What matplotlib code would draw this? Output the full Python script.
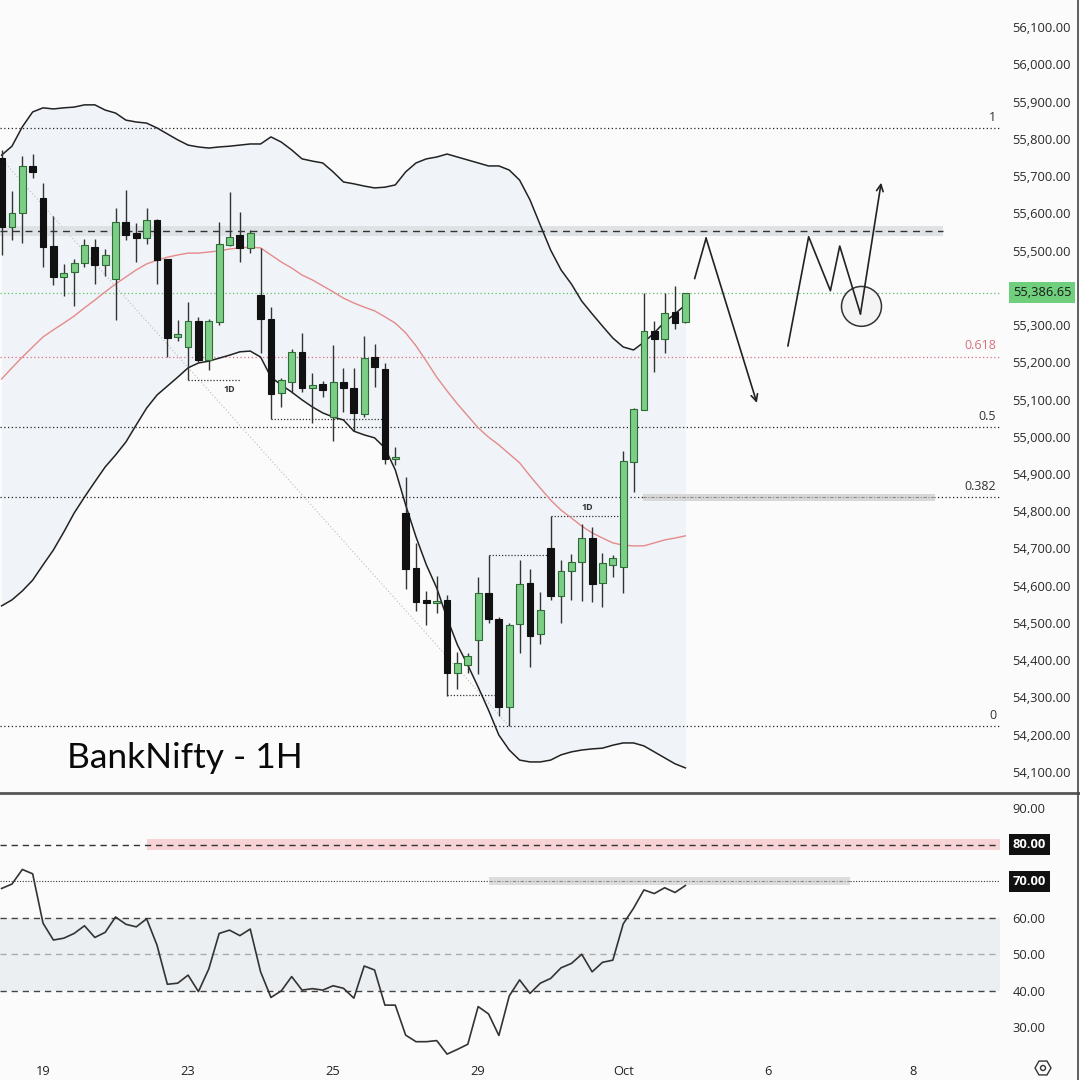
import numpy as np
import matplotlib
matplotlib.use('Agg')
import matplotlib.pyplot as plt
from matplotlib.patches import Ellipse, RegularPolygon
from matplotlib.lines import Line2D
from matplotlib.transforms import blended_transform_factory

plt.rcParams['font.family'] = ['Open Sans', 'DejaVu Sans']

# 1H candles, bar 0 = first visible bar (Sep 18), last bar = Oct 1 15:15
opens = [55748, 55562, 55601, 55727, 55640, 55512, 55428, 55442, 55466, 55510,
         55460, 55423, 55577, 55546, 55534, 55582, 55476, 55267, 55242, 55311,
         55206, 55309, 55515, 55542, 55506, 55381, 55316, 55117, 55148, 55228,
         55132, 55142, 55054, 55146, 55132, 55060, 55215, 55182, 54939, 54794,
         54647, 54562, 54555, 54562, 54367, 54387, 54454, 54580, 54510, 54274,
         54497, 54607, 54470, 54701, 54572, 54640, 54663, 54727, 54608, 54656,
         54651, 54931, 55072, 55284, 55262, 55334, 55307]
highs = [55770, 55661, 55754, 55759, 55682, 55593, 55464, 55476, 55530, 55530,
         55503, 55613, 55662, 55575, 55613, 55585, 55478, 55313, 55361, 55322,
         55316, 55577, 55658, 55603, 55555, 55506, 55348, 55158, 55235, 55278,
         55170, 55151, 55246, 55185, 55185, 55270, 55249, 55199, 54973, 54891,
         54714, 54587, 54626, 54575, 54423, 54419, 54623, 54683, 54515, 54501,
         54669, 54644, 54582, 54787, 54669, 54685, 54766, 54757, 54687, 54683,
         54962, 55076, 55387, 55312, 55385, 55405, 55387]
lows = [55488, 55528, 55519, 55694, 55456, 55407, 55378, 55351, 55455, 55410,
        55432, 55313, 55528, 55469, 55517, 55410, 55215, 55258, 55152, 55201,
        55179, 55300, 55512, 55470, 55492, 55224, 55047, 55079, 55117, 55121,
        55038, 55108, 54989, 55067, 55016, 55052, 55134, 54927, 54924, 54590,
        54533, 54495, 54526, 54304, 54322, 54365, 54363, 54501, 54250, 54223,
        54419, 54381, 54444, 54562, 54499, 54562, 54560, 54557, 54543, 54624,
        54580, 54852, 55072, 55175, 55224, 55288, 55305]
closes = [55563, 55600, 55727, 55710, 55510, 55428, 55439, 55467, 55514, 55460,
          55487, 55576, 55542, 55534, 55582, 55475, 55266, 55276, 55311, 55206,
          55311, 55517, 55537, 55506, 55548, 55316, 55114, 55152, 55228, 55130,
          55139, 55125, 55146, 55132, 55063, 55212, 55188, 54940, 54946, 54646,
          54557, 54555, 54560, 54367, 54392, 54411, 54580, 54510, 54274, 54495,
          54604, 54466, 54535, 54572, 54640, 54665, 54727, 54605, 54662, 54674,
          54936, 55074, 55285, 55262, 55331, 55305, 55386.65]

# Bollinger bands
bb_upper = [55756, 55780, 55832, 55872, 55883, 55880, 55883, 55885, 55891, 55891,
            55877, 55869, 55850, 55845, 55842, 55829, 55813, 55797, 55783, 55778,
            55775, 55778, 55780, 55783, 55786, 55786, 55805, 55791, 55770, 55746,
            55740, 55735, 55711, 55684, 55679, 55673, 55668, 55670, 55676, 55711,
            55735, 55746, 55751, 55759, 55751, 55743, 55735, 55727, 55727, 55716,
            55689, 55636, 55568, 55501, 55448, 55410, 55364, 55330, 55297, 55265,
            55241, 55233, 55254, 55279, 55308, 55330, 55354]
bb_lower = [54546, 54562, 54586, 54615, 54656, 54696, 54744, 54795, 54838, 54879,
            54919, 54951, 54986, 55032, 55077, 55112, 55136, 55160, 55185, 55198,
            55203, 55211, 55219, 55228, 55230, 55214, 55160, 55139, 55120, 55099,
            55080, 55064, 55053, 55045, 55015, 55005, 54997, 54970, 54911, 54817,
            54731, 54656, 54594, 54513, 54441, 54387, 54328, 54266, 54199, 54159,
            54132, 54127, 54127, 54132, 54146, 54154, 54159, 54162, 54164, 54172,
            54178, 54178, 54170, 54154, 54138, 54122, 54111]
bb_basis = [55155, 55185, 55214, 55241, 55268, 55287, 55305, 55324, 55346, 55367,
            55389, 55410, 55429, 55448, 55464, 55474, 55482, 55488, 55493, 55493,
            55496, 55499, 55504, 55507, 55509, 55507, 55488, 55469, 55453, 55434,
            55421, 55405, 55389, 55372, 55359, 55348, 55338, 55322, 55305, 55279,
            55244, 55203, 55160, 55123, 55088, 55056, 55024, 54999, 54978, 54954,
            54930, 54895, 54862, 54830, 54803, 54782, 54760, 54742, 54728, 54715,
            54709, 54707, 54707, 54715, 54723, 54728, 54734]

rsi = [68.0, 69.2, 73.2, 72.0, 58.5, 53.9, 54.4, 55.7, 57.8, 54.6,
       56.0, 60.2, 58.2, 57.5, 59.7, 52.5, 41.8, 42.1, 44.3, 39.8,
       46.0, 55.7, 56.6, 55.1, 56.9, 45.2, 38.2, 40.0, 43.9, 40.2,
       40.6, 40.2, 41.4, 40.7, 38.0, 46.8, 45.7, 36.1, 36.1, 27.9,
       26.1, 26.1, 26.4, 22.7, 24.0, 25.4, 35.7, 33.7, 27.8, 38.6,
       43.0, 39.3, 42.1, 43.4, 46.3, 47.5, 50.0, 45.2, 47.8, 48.4,
       58.3, 62.6, 67.6, 66.6, 68.2, 66.9, 68.8]

date_pos = [4, 18, 32, 46, 60, 74, 88]
date_labels = ['19', '23', '25', '29', 'Oct', '6', '8']

price_ticks = [54100, 54200, 54300, 54400, 54500, 54600, 54700, 54800, 54900, 55000,
               55100, 55200, 55300, 55500, 55600, 55700, 55800, 55900, 56000, 56100]
rsi_ticks = [30, 40, 50, 60, 90]

fib_levels = [54223, 54837, 55026, 55215, 55829]
fib_labels = ['0', '0.382', '0.5', '0.618', '1']
fib_line_x = [-2.7, 49]
fib_line_p = [55829, 54223]

resistance = 55553
resistance_end = 90.9
zone_382 = [61.9, 90.1]
last_price = 55386.65

# previous-day high/low markers
pd_levels = [55152, 55047, 54306, 54683, 54787]
pd_start = [18, 26, 43, 47, 53]
pd_end = [23, 36.7, 47.6, 53, 59.5]
pd_text_x = [22.0, 56.5]
pd_text_p = [55128, 54811]

# drawn projection paths
path_a_x = [66.9, 68.0, 72.9]
path_a_p = [55425, 55533, 55091]
path_b_x = [75.9, 77.9, 80.0, 80.9, 82.9, 84.9]
path_b_p = [55244, 55537, 55392, 55512, 55330, 55682]
circle_x, circle_p = 83.0, 55350

rsi_upper_band_start = 14.0
rsi_70_zone = [47.0, 81.9]

bg = '#fbfbfb'
green = '#7ccd86'
xl, xr = -0.154, 96.37

fig = plt.figure(figsize=(10.8, 10.8), dpi=100, facecolor=bg)
ax = fig.add_axes([0, 1 - 792 / 1080, 1000 / 1080, 792 / 1080], facecolor=bg)
ax2 = fig.add_axes([0, 1 - 1055 / 1080, 1000 / 1080, 261 / 1080], facecolor=bg)

x = np.arange(len(opens))
o = np.array(opens)
c = np.array(closes)
up = c >= o

# Bollinger band background and lines
ax.fill_between(x, bb_lower, bb_upper, color='#e6eff7', alpha=0.5, lw=0, zorder=0.5)
ax.plot(x, bb_upper, color='#222', lw=1.1, zorder=2)
ax.plot(x, bb_lower, color='#222', lw=1.1, zorder=2)
ax.plot(x, bb_basis, color='#e58a8a', lw=1.0, zorder=2)

# fib levels
for lvl, lab in zip(fib_levels, fib_labels):
    col = '#d9707e' if lab == '0.618' else '#222'
    ax.axhline(lvl, color=col, lw=0.9, ls=(0, (1, 2)), zorder=1)
    ax.annotate(lab, xy=(0.996, lvl), xycoords=('axes fraction', 'data'),
                xytext=(0, 3), textcoords='offset points', ha='right', va='bottom',
                fontsize=9, color='#d9707e' if lab == '0.618' else '#333')
ax.plot(fib_line_x, fib_line_p, color='#bbb', lw=0.8, ls=(0, (1, 2)), zorder=1)

# resistance zone
ax.fill_between([xl, resistance_end], resistance - 14, resistance + 14,
                color='#dcdfe2', alpha=0.85, lw=0, zorder=1)
ax.hlines(resistance, xl, resistance_end, color='#333', lw=1, ls=(0, (5, 4)), zorder=1.2)

# 0.382 marker zone
ax.fill_between(zone_382, fib_levels[1] - 9, fib_levels[1] + 9, color='#d8d8d8', lw=0, zorder=1)
ax.hlines(fib_levels[1], zone_382[0], zone_382[1], color='#8a8a8a', lw=0.8,
          ls=(0, (3, 1.5, 1, 1.5)), zorder=1.2)

# previous day markers
ax.hlines(pd_levels, pd_start, pd_end, color='#333', lw=0.9, ls=(0, (1, 1.5)), zorder=1.5)
for tx, tp in zip(pd_text_x, pd_text_p):
    ax.text(tx, tp, '1D', fontsize=6.5, fontweight='bold', color='#333', ha='center', va='center')

# last price line
ax.axhline(last_price, color='#5cbf6a', lw=0.9, ls=(0, (1, 2)), zorder=1)

# candles
ax.vlines(x, lows, highs, color='#333', lw=1, zorder=3)
ax.bar(x[up], (c - o)[up], bottom=o[up], width=0.66, color=green,
       edgecolor='#2f6b37', lw=0.8, zorder=4)
ax.bar(x[~up], (c - o)[~up], bottom=o[~up], width=0.66, color='#111',
       edgecolor='#111', lw=0.8, zorder=4)

# projection sketch
ax.plot(path_a_x[:2], path_a_p[:2], color='#222', lw=1.2, zorder=5)
ax.annotate('', xy=(path_a_x[2], path_a_p[2]), xytext=(path_a_x[1], path_a_p[1]),
            arrowprops=dict(arrowstyle='->', color='#222', lw=1.2, mutation_scale=12,
                            shrinkA=0, shrinkB=0), zorder=5)
ax.plot(path_b_x[:-1], path_b_p[:-1], color='#222', lw=1.2, zorder=5)
ax.annotate('', xy=(path_b_x[-1], path_b_p[-1]), xytext=(path_b_x[-2], path_b_p[-2]),
            arrowprops=dict(arrowstyle='->', color='#222', lw=1.2, mutation_scale=12,
                            shrinkA=0, shrinkB=0), zorder=5)
ax.add_patch(Ellipse((circle_x, circle_p), width=3.86, height=107, fill=True,
                     fc='#f4f4f4', ec='#333', lw=1.1, zorder=4.5))

ax.text(0.067, 0.043, 'BankNifty - 1H', transform=ax.transAxes, fontsize=25.5,
        family=['Lato', 'DejaVu Sans'], color='#0a0a0a', va='center')

ax.set_xlim(xl, xr)
ax.set_ylim(54046.3, 56172.5)
ax.yaxis.tick_right()
ax.set_yticks(price_ticks)
ax.set_yticklabels([f'{v:,.2f}' for v in price_ticks])
ax.tick_params(axis='y', length=0, pad=9, labelsize=9.3, labelcolor='#2a2a2a')
ax.tick_params(axis='x', bottom=False, labelbottom=False)
for s in ax.spines.values():
    s.set_visible(False)

tr = blended_transform_factory(ax.transAxes, ax.transData)
ax.text(1.013, last_price, f'{last_price:,.2f}', transform=tr, ha='left', va='center',
        fontsize=9.3, color='#1a1a1a', clip_on=False, zorder=10,
        bbox=dict(boxstyle='square,pad=0.3', fc='#6fcf7c', ec='none'))

# RSI panel
ax2.fill_between([xl, xr], 40, 60, color='#eceff1', lw=0, zorder=0.5)
ax2.fill_between([rsi_upper_band_start, xr], 78.6, 81.4, color='#f7d3d6', lw=0, zorder=0.6)
ax2.axhline(80, color='#333', lw=1, ls=(0, (4.5, 3.5)), zorder=1)
ax2.axhline(70, color='#333', lw=0.8, ls=(0, (1, 1.5)), zorder=1)
ax2.fill_between(rsi_70_zone, 68.9, 71.1, color='#dcdcdc', lw=0, zorder=1.1)
ax2.hlines(70, rsi_70_zone[0], rsi_70_zone[1], color='#8a8a8a', lw=0.8,
           ls=(0, (3, 1.5, 1, 1.5)), zorder=1.2)
ax2.axhline(60, color='#444', lw=1, ls=(0, (4.5, 3.5)), zorder=1)
ax2.axhline(50, color='#aaa', lw=1, ls=(0, (4.5, 3.5)), zorder=1)
ax2.axhline(40, color='#444', lw=1, ls=(0, (4.5, 3.5)), zorder=1)
ax2.plot(x, rsi, color='#333', lw=1.2, zorder=3)

ax2.set_xlim(xl, xr)
ax2.set_ylim(22.46, 93.83)
ax2.yaxis.tick_right()
ax2.set_yticks(rsi_ticks)
ax2.set_yticklabels([f'{v:.2f}' for v in rsi_ticks])
ax2.set_xticks(date_pos)
ax2.set_xticklabels(date_labels)
ax2.tick_params(axis='y', length=0, pad=9, labelsize=9.3, labelcolor='#2a2a2a')
ax2.tick_params(axis='x', length=0, pad=7, labelsize=9.3, labelcolor='#222')
for s in ax2.spines.values():
    s.set_visible(False)

tr2 = blended_transform_factory(ax2.transAxes, ax2.transData)
for v in [80, 70]:
    ax2.text(1.013, v, f'{v:.2f}', transform=tr2, ha='left', va='center', fontsize=9.3,
             fontweight='bold', color='white', clip_on=False, zorder=10,
             bbox=dict(boxstyle='square,pad=0.3', fc='#111', ec='none'))

# panel separator, right border, settings icon
fig.add_artist(Line2D([0, 1], [1 - 793 / 1080] * 2, transform=fig.transFigure,
                      color='#555', lw=2))
fig.add_artist(Line2D([1078 / 1080] * 2, [0, 1], transform=fig.transFigure,
                      color='#444', lw=1.2))
fig.add_artist(RegularPolygon((1043 / 1080, 1 - 1068 / 1080), numVertices=6,
                              radius=8 / 1080, orientation=np.pi / 6,
                              transform=fig.transFigure, fill=False, ec='#333', lw=1))
fig.add_artist(plt.Circle((1043 / 1080, 1 - 1068 / 1080), 2.5 / 1080,
                          transform=fig.transFigure, fill=False, ec='#333', lw=1))

fig.savefig('out.png', dpi=100, facecolor=bg)
